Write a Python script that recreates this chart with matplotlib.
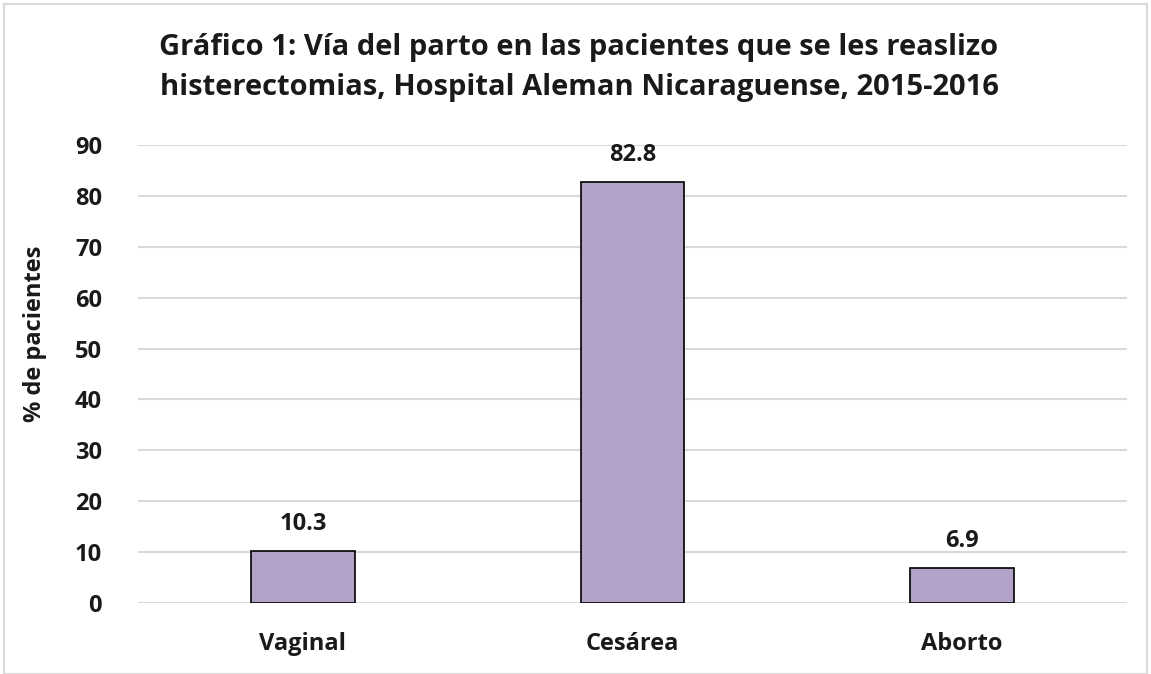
import matplotlib
matplotlib.use('Agg')
from matplotlib import pyplot as plt
from matplotlib.patches import Rectangle

categories = ['Vaginal', 'Cesárea', 'Aborto']
values = [10.3, 82.8, 6.9]
yticks = [0, 10, 20, 30, 40, 50, 60, 70, 80, 90]
title = ('Gráfico 1: Vía del parto en las pacientes que se les reaslizo\n'
         'histerectomias, Hospital Aleman Nicaraguense, 2015-2016')

plt.rcParams['font.family'] = ['Open Sans', 'DejaVu Sans']
plt.rcParams['font.weight'] = 'bold'

fig = plt.figure(figsize=(11.51, 6.74), dpi=100)
W, H = 1151, 674
ax = fig.add_axes([138 / W, 1 - 603 / H, (1127 - 138) / W, (603 - 145) / H])

x = range(len(categories))
ax.bar(x, values, width=0.315, color='#b3a2c7', edgecolor='black', linewidth=1.2, zorder=3)
for xi, v in zip(x, values):
    ax.annotate(f'{v:.1f}', (xi, v), xytext=(0, 19), textcoords='offset points',
                ha='center', va='center', fontsize=17, fontweight='bold', color='#1a1a1a')

ax.set_xlim(-0.5, len(categories) - 0.5)
ax.set_ylim(0, 90)
ax.set_yticks(yticks)
ax.set_xticks(list(x))
ax.set_xticklabels(categories)
ax.tick_params(axis='both', length=0, labelsize=17, colors='#1a1a1a')
ax.tick_params(axis='x', pad=21)
ax.tick_params(axis='y', pad=26)
ax.yaxis.grid(True, color='#d9d9d9', linewidth=1.5, zorder=0)
for s in ax.spines.values():
    s.set_visible(False)

ax.set_ylabel('% de pacientes', fontsize=17, fontweight='bold', color='#1a1a1a')
ax.yaxis.set_label_coords(-0.092, 0.587)

fig.text(579 / W, 1 - 68 / H, title, ha='center', va='center', fontsize=21,
         fontweight='bold', color='#1a1a1a', linespacing=1.5)

fig.add_artist(Rectangle((4 / W, 0), 1 - 8 / W, 1 - 4 / H, transform=fig.transFigure,
                         fill=False, edgecolor='#d9d9d9', linewidth=1.5))

fig.savefig('out.png', dpi=100)
